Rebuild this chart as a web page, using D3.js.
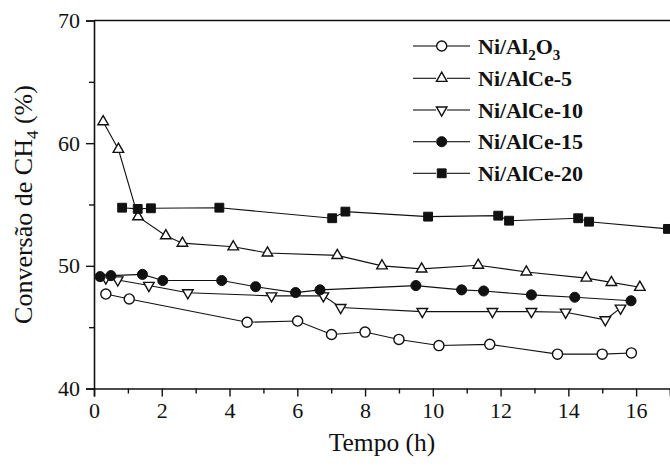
<!DOCTYPE html>
<html>
<head>
<meta charset="utf-8">
<script src="https://cdn.jsdelivr.net/npm/d3@7"></script>
<style>
html, body { margin: 0; padding: 0; background: #fff; }
svg { display: block; }
text { font-family: "Liberation Serif", "Times New Roman", serif; fill: #111; }
</style>
</head>
<body>
<svg id="chart" width="670" height="467"></svg>
<script>
// ---- Data ----
const seriesNames = ["Ni/Al2O3", "Ni/AlCe-5", "Ni/AlCe-10", "Ni/AlCe-15", "Ni/AlCe-20"];

const al2o3Time = [0.35, 1.04, 4.52, 6.01, 7.01, 8.0, 9.0, 10.18, 11.68, 13.68, 15.0, 15.86];
const al2o3Conv = [47.7, 47.3, 45.4, 45.5, 44.4, 44.6, 44.0, 43.5, 43.6, 42.8, 42.8, 42.9];

const ce5Time = [0.27, 0.72, 1.30, 2.12, 2.61, 4.11, 5.12, 7.18, 8.50, 9.67, 11.34, 12.76, 14.53, 15.27, 16.11];
const ce5Conv = [61.75, 59.5, 54.0, 52.45, 51.85, 51.55, 51.05, 50.85, 50.0, 49.75, 50.05, 49.5, 49.0, 48.65, 48.25];

const ce10Time = [0.35, 0.70, 1.62, 2.77, 5.24, 6.77, 7.28, 9.69, 11.76, 12.91, 13.92, 15.09, 15.54];
const ce10Conv = [49.0, 48.85, 48.4, 47.8, 47.55, 47.55, 46.6, 46.27, 46.27, 46.27, 46.22, 45.6, 46.55];

const ce15Time = [0.18, 0.50, 1.43, 2.03, 3.77, 4.77, 5.95, 6.67, 9.50, 10.85, 11.50, 12.91, 14.19, 15.85];
const ce15Conv = [49.12, 49.2, 49.3, 48.8, 48.8, 48.3, 47.82, 48.04, 48.39, 48.04, 47.95, 47.63, 47.44, 47.15];

const ce20Time = [0.83, 1.29, 1.68, 3.70, 7.03, 7.42, 9.86, 11.93, 12.25, 14.29, 14.61, 16.94];
const ce20Conv = [54.74, 54.64, 54.69, 54.74, 53.88, 54.42, 54.01, 54.09, 53.68, 53.88, 53.60, 53.01];

const xMajorTicks = [0, 2, 4, 6, 8, 10, 12, 14, 16];
const xMinorTicks = [1, 3, 5, 7, 9, 11, 13, 15, 17];
const yMajorTicks = [40, 50, 60, 70];
const yMinorTicks = [45, 55, 65];

const xTitle = "Tempo (h)";

// ---- Build series table ----
const series = [
  { name: seriesNames[0], t: al2o3Time, v: al2o3Conv, shape: "circle", filled: false },
  { name: seriesNames[1], t: ce5Time, v: ce5Conv, shape: "triUp", filled: false },
  { name: seriesNames[2], t: ce10Time, v: ce10Conv, shape: "triDown", filled: false },
  { name: seriesNames[3], t: ce15Time, v: ce15Conv, shape: "circle", filled: true },
  { name: seriesNames[4], t: ce20Time, v: ce20Conv, shape: "square", filled: true }
];

// ---- Layout ----
const svg = d3.select("#chart");
const mLeft = 94, mRight = 670, mTop = 20.5, mBottom = 388.5;

const x = d3.scaleLinear().domain([0, 17]).range([mLeft, mRight]);
const y = d3.scaleLinear().domain([40, 70]).range([mBottom, mTop]);

// Top frame line
svg.append("line").attr("x1", mLeft).attr("x2", mRight).attr("y1", mTop).attr("y2", mTop)
  .attr("stroke", "#111").attr("stroke-width", 1.6);

// X axis
const xAxisMajor = d3.axisBottom(x).tickValues(xMajorTicks).tickSize(8).tickPadding(6)
  .tickFormat(d3.format("d"));
const gx = svg.append("g").attr("transform", `translate(0,${mBottom})`).call(xAxisMajor);
gx.select(".domain").attr("stroke", "#111").attr("stroke-width", 1.6);
gx.selectAll(".tick line").attr("stroke", "#111").attr("stroke-width", 1.4);
gx.selectAll(".tick text").style("font-family", '"Liberation Serif", "Times New Roman", serif')
  .style("font-size", "22px").attr("fill", "#111");
const xAxisMinor = d3.axisBottom(x).tickValues(xMinorTicks).tickSize(5).tickFormat("");
const gx2 = svg.append("g").attr("transform", `translate(0,${mBottom})`).call(xAxisMinor);
gx2.select(".domain").remove();
gx2.selectAll(".tick line").attr("stroke", "#111").attr("stroke-width", 1.4);

// Y axis
const yAxisMajor = d3.axisLeft(y).tickValues(yMajorTicks).tickSize(8).tickPadding(6)
  .tickFormat(d3.format("d"));
const gy = svg.append("g").attr("transform", `translate(${mLeft},0)`).call(yAxisMajor);
gy.select(".domain").attr("stroke", "#111").attr("stroke-width", 1.6);
gy.selectAll(".tick line").attr("stroke", "#111").attr("stroke-width", 1.4);
gy.selectAll(".tick text").style("font-family", '"Liberation Serif", "Times New Roman", serif')
  .style("font-size", "22px").attr("fill", "#111");
const yAxisMinor = d3.axisLeft(y).tickValues(yMinorTicks).tickSize(5).tickFormat("");
const gy2 = svg.append("g").attr("transform", `translate(${mLeft},0)`).call(yAxisMinor);
gy2.select(".domain").remove();
gy2.selectAll(".tick line").attr("stroke", "#111").attr("stroke-width", 1.4);

// Axis titles
svg.append("text").attr("x", (mLeft + mRight) / 2).attr("y", 451)
  .attr("text-anchor", "middle").style("font-size", "25.5px").text(xTitle);

const yt = svg.append("text")
  .attr("transform", `translate(32,${(mTop + mBottom) / 2}) rotate(-90)`)
  .attr("text-anchor", "middle").style("font-size", "26px");
yt.append("tspan").text("Conversão de CH");
yt.append("tspan").attr("dy", 6).style("font-size", "17px").text("4");
yt.append("tspan").attr("dy", -6).text(" (%)");

// ---- Markers ----
function symbolPath(shape) {
  if (shape === "circle") return d3.symbol(d3.symbolCircle, 80)();
  if (shape === "square") return d3.symbol(d3.symbolSquare, 78)();
  return d3.symbol(d3.symbolTriangle, 48)();
}
function drawMarker(g, shape, filled, cx, cy) {
  const rot = shape === "triDown" ? 180 : 0;
  g.append("path")
    .attr("d", symbolPath(shape))
    .attr("transform", `translate(${cx},${cy}) rotate(${rot})`)
    .attr("fill", filled ? "#111" : "#fff")
    .attr("stroke", "#111")
    .attr("stroke-width", filled ? 1 : 1.4);
}

const line = d3.line().x(d => x(d[0])).y(d => y(d[1]));
const plot = svg.append("g");

series.forEach(s => {
  const pts = s.t.map((t, i) => [t, s.v[i]]);
  plot.append("path").datum(pts).attr("d", line)
    .attr("fill", "none").attr("stroke", "#111").attr("stroke-width", 1.1);
});
series.forEach(s => {
  s.t.forEach((t, i) => drawMarker(plot, s.shape, s.filled, x(t), y(s.v[i])));
});

// ---- Legend ----
const legend = svg.append("g");
const rowY = [46, 78.3, 110, 141.7, 173.3];
series.forEach((s, i) => {
  const cy = rowY[i];
  legend.append("line").attr("x1", 413).attr("x2", 436).attr("y1", cy).attr("y2", cy)
    .attr("stroke", "#111").attr("stroke-width", 1.1);
  legend.append("line").attr("x1", 447).attr("x2", 470).attr("y1", cy).attr("y2", cy)
    .attr("stroke", "#111").attr("stroke-width", 1.1);
  drawMarker(legend, s.shape, s.filled, 441.7, cy);
  const txt = legend.append("text").attr("x", 478).attr("y", cy + 7.7)
    .style("font-size", "22px").style("font-weight", "bold");
  if (s.name === "Ni/Al2O3") {
    txt.append("tspan").text("Ni/Al");
    txt.append("tspan").attr("dy", 6).style("font-size", "15px").text("2");
    txt.append("tspan").attr("dy", -6).text("O");
    txt.append("tspan").attr("dy", 6).style("font-size", "15px").text("3");
  } else {
    txt.text(s.name);
  }
});
</script>
</body>
</html>
